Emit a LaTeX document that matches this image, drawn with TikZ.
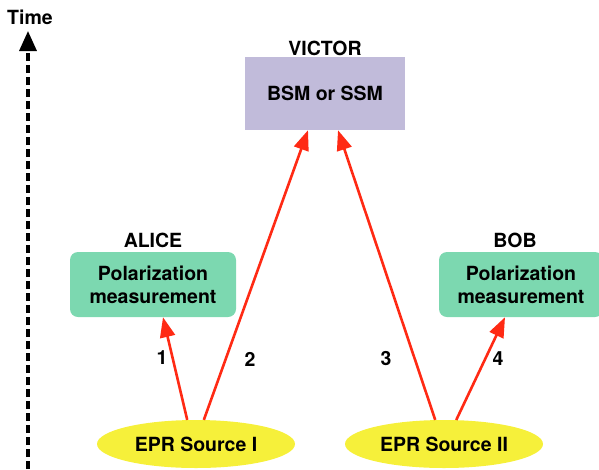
\documentclass[tikz,border=0pt]{standalone}
\usepackage{fontspec}
\setmainfont{TeX Gyre Heros}
\usepackage{tikz}
\usetikzlibrary{arrows.meta,positioning,shapes.geometric}

\definecolor{victorfill}{RGB}{193,187,218}
\definecolor{partyfill}{RGB}{124,216,176}
\definecolor{srcfill}{RGB}{246,240,58}
\definecolor{rayred}{RGB}{255,42,20}

\begin{document}
\begin{tikzpicture}[
  x=1pt,y=-1pt,
  every node/.style={font=\fontsize{19.5}{23}\selectfont\bfseries},
  lab/.style={inner sep=2pt},
  victorbox/.style={fill=victorfill, minimum width=160pt, minimum height=73pt, inner sep=0pt},
  party/.style={fill=partyfill, rounded corners=8pt, align=center, minimum width=166pt, minimum height=65pt, inner sep=0pt},
  source/.style={ellipse, fill=srcfill, minimum width=198pt, minimum height=48pt, inner sep=0pt},
  ray/.style={draw=rayred, line width=2.6pt, -{Triangle[length=20pt,width=15pt]}},
  timeaxis/.style={line width=3.4pt, dash pattern=on 8pt off 4pt, -{Triangle[length=20pt,width=17pt]}}
]
\useasboundingbox (0,0) rectangle (599,469);

\node[victorbox] (victor) at (325,93.5) {BSM or SSM};
\node[lab, above=-1pt of victor] (victortag) {VICTOR};
\node[party] (alice) at (153,284.5) {Polarization\\measurement};
\node[lab, above=2pt of alice] (alicetag) {ALICE};
\node[party, minimum width=164pt] (bob) at (521,284.5) {Polarization\\measurement};
\node[lab, above=2pt of bob, xshift=-6pt] (bobtag) {BOB};
\node[source] (srcI) at (196,444) {EPR Source I};
\node[source] (srcII) at (444,444) {EPR Source II};

% time axis
\coordinate (tbot) at (28,469);
\coordinate (ttop) at (28,31);
\node[lab] (timelbl) at (30,17) {Time};
\draw[timeaxis] (tbot) -- (ttop);

% photons
\draw[ray] (srcI.110) -- ([xshift=10pt]alice.south);
\draw[ray] (srcI.72) -- ([xshift=-17pt]victor.south);
\draw[ray] (srcII.110) -- ([xshift=13pt]victor.south);
\draw[ray] (srcII.63) -- ([xshift=-16pt]bob.south);

\node[lab] (n1) at (162,358) {1};
\node[lab] (n2) at (250,359) {2};
\node[lab] (n3) at (386,359) {3};
\node[lab] (n4) at (498,359) {4};
\end{tikzpicture}
\end{document}
